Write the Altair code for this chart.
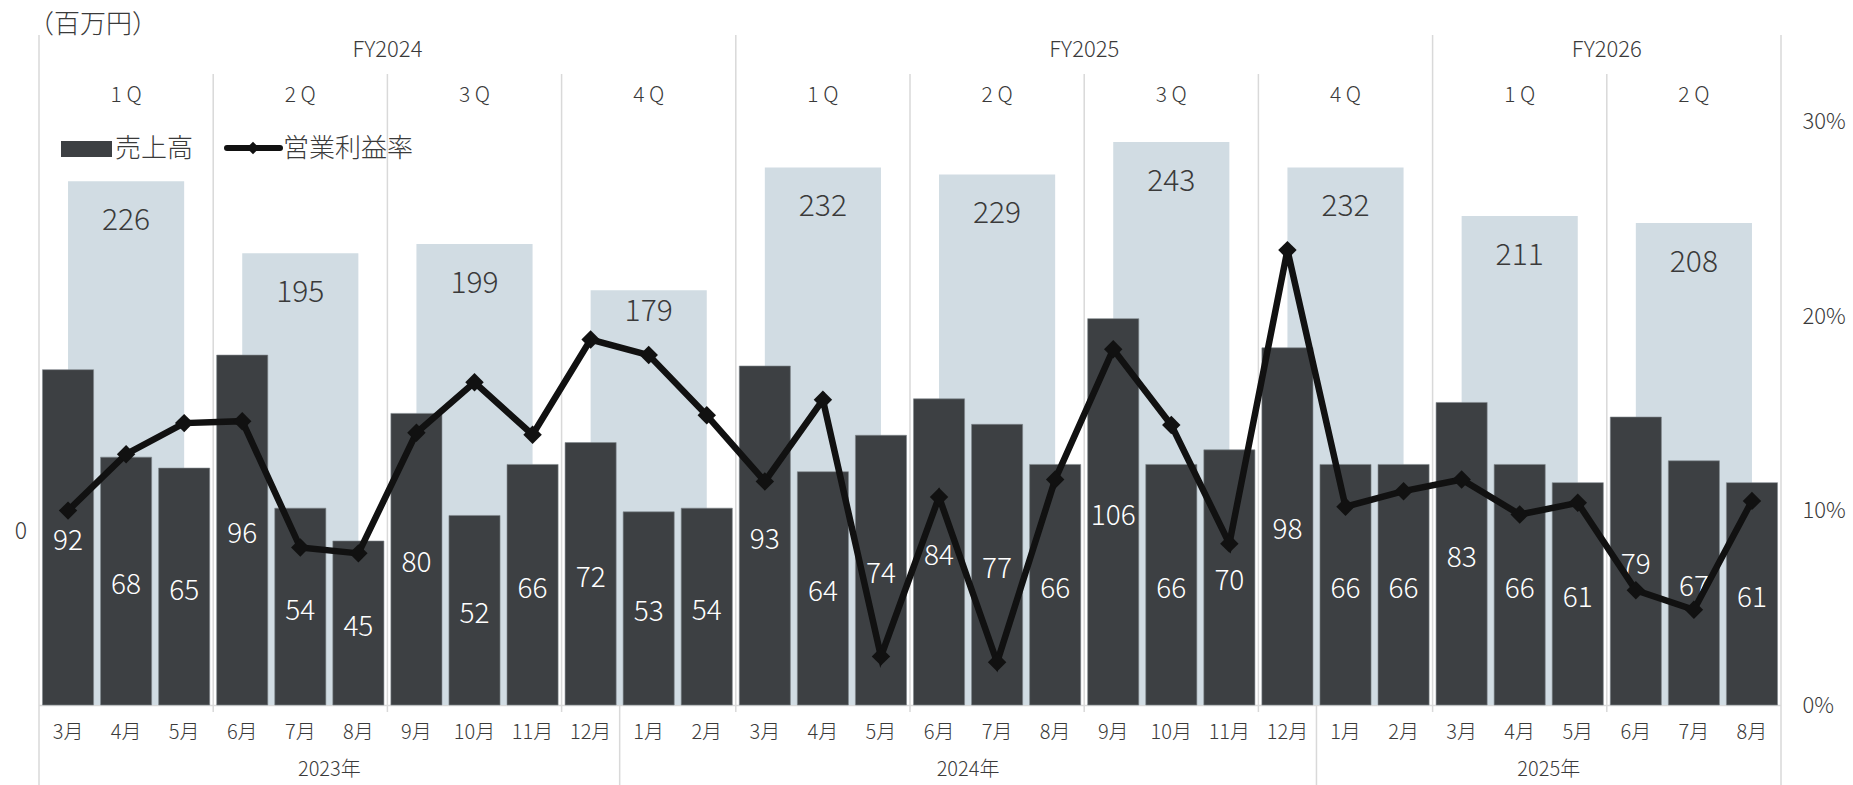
import altair as alt
import pandas as pd

# ---- data -------------------------------------------------------------
months = ["3月", "4月", "5月", "6月", "7月", "8月", "9月", "10月", "11月", "12月",
          "1月", "2月", "3月", "4月", "5月", "6月", "7月", "8月", "9月", "10月", "11月", "12月",
          "1月", "2月", "3月", "4月", "5月", "6月", "7月", "8月"]
sales = [92, 68, 65, 96, 54, 45, 80, 52, 66, 72,
         53, 54, 93, 64, 74, 84, 77, 66, 106, 66, 70, 98,
         66, 66, 83, 66, 61, 79, 67, 61]
margin_pct = [10.0, 12.9, 14.5, 14.6, 8.1, 7.8, 14.0, 16.6, 13.9, 18.8,
              18.0, 14.9, 11.5, 15.7, 2.5, 10.7, 2.2, 11.6, 18.3, 14.4, 8.3, 23.4,
              10.2, 11.0, 11.6, 9.8, 10.4, 5.9, 4.9, 10.5]
quarter_names = ["1 Q", "2 Q", "3 Q", "4 Q", "1 Q", "2 Q", "3 Q", "4 Q", "1 Q", "2 Q"]
quarter_sales = [226, 195, 199, 179, 232, 229, 243, 232, 211, 208]
fiscal_years = ["FY2024", "FY2025", "FY2026"]
fiscal_year_months = [12, 12, 6]
calendar_years = ["2023年", "2024年", "2025年"]
calendar_year_months = [10, 12, 8]

# ---- tables -----------------------------------------------------------
n = len(months)
monthly = pd.DataFrame({"i": range(n), "month": months, "sales": sales, "margin": margin_pct})
quarterly = pd.DataFrame({"q": range(len(quarter_sales)), "name": quarter_names,
                          "sales": quarter_sales})


def spans(names, lengths):
    start, rows = 0, []
    for name, length in zip(names, lengths):
        rows.append({"name": name, "start": start, "end": start + length})
        start += length
    return pd.DataFrame(rows)


fy = spans(fiscal_years, fiscal_year_months)
cy = spans(calendar_years, calendar_year_months)

quarter_edges = pd.DataFrame({"b": [3 * k for k in range(1, len(quarter_sales))]})
quarter_inner = quarter_edges[~quarter_edges["b"].isin(fy["end"])]
fy_edges = pd.DataFrame({"b": [0] + fy["end"].tolist()})
outer_edges = pd.DataFrame({"b": [0, n] + cy["end"].tolist()[:-1]})

# ---- geometry ---------------------------------------------------------
W, H = 1742, 705
FONT = "Noto Sans CJK JP"
DARK = "#3d4043"
LIGHT = "#d1dce3"
GRID = "#d9d9d9"
TEXT = "#3a3a3a"

xs = alt.Scale(domain=[0, n], nice=False, zero=False)
y_month = alt.Scale(domain=[0, H / 3.645], nice=False)
y_quarter = alt.Scale(domain=[0, H / 2.317], nice=False)
y_pct = alt.Scale(domain=[0, H / 19.44], nice=False)

X = lambda f: alt.X(f, type="quantitative", scale=xs, axis=None)

# separators
rule_quarter = alt.Chart(quarter_inner).mark_rule(color=GRID, strokeWidth=1.5).encode(
    x=X("b"), y=alt.value(74), y2=alt.value(H))
rule_fy = alt.Chart(fy_edges).mark_rule(color=GRID, strokeWidth=1.5).encode(
    x=X("b"), y=alt.value(35), y2=alt.value(H))
rule_outer = alt.Chart(outer_edges).mark_rule(color=GRID, strokeWidth=1.5).encode(
    x=X("b"), y=alt.value(H), y2=alt.value(785))
rule_ticks = alt.Chart(quarter_edges).mark_rule(color=GRID, strokeWidth=1.5).encode(
    x=X("b"), y=alt.value(H), y2=alt.value(H + 7))
baseline = alt.Chart(pd.DataFrame({"a": [0], "b": [n]})).mark_rule(color=GRID, strokeWidth=1.5).encode(
    x=X("a"), x2="b", y=alt.value(H + 0.5))

# quarterly bars (background)
q_bars = alt.Chart(quarterly).transform_calculate(
    x0="datum.q * 3 + 0.5", x1="datum.q * 3 + 2.5", zero="0"
).mark_bar(color=LIGHT).encode(
    x=X("x0"), x2="x1:Q",
    y=alt.Y("sales:Q", scale=y_quarter, axis=None), y2="zero:Q")

q_labels = alt.Chart(quarterly).transform_filter("datum.q != 3").transform_calculate(
    xc="datum.q * 3 + 1.5"
).mark_text(font=FONT, fontSize=30, fontWeight=300, color=TEXT, baseline="middle", dy=40).encode(
    x=X("xc"), y=alt.Y("sales:Q", scale=y_quarter, axis=None), text="sales:Q")
q_labels_low = alt.Chart(quarterly).transform_filter("datum.q == 3").transform_calculate(
    xc="datum.q * 3 + 1.5"
).mark_text(font=FONT, fontSize=30, fontWeight=300, color=TEXT, baseline="middle", dy=22).encode(
    x=X("xc"), y=alt.Y("sales:Q", scale=y_quarter, axis=None), text="sales:Q")

# monthly bars
m_bars = alt.Chart(monthly).transform_calculate(
    x0="datum.i + 0.06", x1="datum.i + 0.94", zero="0"
).mark_bar(color=DARK, stroke="#80868b", strokeWidth=0.6).encode(
    x=X("x0"), x2="x1:Q",
    y=alt.Y("sales:Q", scale=y_month, axis=None), y2="zero:Q")

m_labels = alt.Chart(monthly).transform_calculate(
    xc="datum.i + 0.5", half="datum.sales / 2"
).mark_text(font=FONT, fontSize=28, fontWeight=300, color="white", baseline="middle", dy=5).encode(
    x=X("xc"), y=alt.Y("half:Q", scale=y_month, axis=None), text="sales:Q")

# operating margin line on the right axis
line = alt.Chart(monthly).transform_calculate(xc="datum.i + 0.5").mark_line(
    color="#111111", strokeWidth=6.5, strokeJoin="miter",
    point=alt.OverlayMarkDef(shape="diamond", size=340, filled=True, color="#111111", opacity=1),
).encode(
    x=X("xc"),
    y=alt.Y("margin:Q", scale=y_pct,
            axis=alt.Axis(orient="right", values=[0, 10, 20, 30], labelExpr="datum.value + '%'",
                          domain=False, ticks=False, grid=False, title=None,
                          labelFont=FONT, labelFontSize=22, labelFontWeight=300, labelColor=TEXT,
                          labelPadding=21, labelAlign="left", labelBaseline="middle")))

# header and footer texts
fy_text = alt.Chart(fy).transform_calculate(xc="(datum.start + datum.end) / 2").mark_text(
    font=FONT, fontSize=22, fontWeight=300, color=TEXT).encode(x=X("xc"), y=alt.value(50), text="name:N")
q_text = alt.Chart(quarterly).transform_calculate(xc="datum.q * 3 + 1.5").mark_text(
    font=FONT, fontSize=21, fontWeight=300, color=TEXT).encode(x=X("xc"), y=alt.value(96), text="name:N")
month_text = alt.Chart(monthly).transform_calculate(xc="datum.i + 0.5").mark_text(
    font=FONT, fontSize=20, fontWeight=300, color=TEXT).encode(x=X("xc"), y=alt.value(733), text="month:N")
year_text = alt.Chart(cy).transform_calculate(xc="(datum.start + datum.end) / 2").mark_text(
    font=FONT, fontSize=20, fontWeight=300, color=TEXT).encode(x=X("xc"), y=alt.value(770), text="name:N")

unit_text = alt.Chart(pd.DataFrame({"t": ["（百万円）"]})).mark_text(
    font=FONT, fontSize=26, fontWeight=300, color=TEXT, align="left").encode(
    x=alt.value(-11), y=alt.value(25), text="t:N")
zero_text = alt.Chart(pd.DataFrame({"t": ["0"]})).mark_text(
    font=FONT, fontSize=23, fontWeight=300, color=TEXT).encode(
    x=alt.value(-18), y=alt.value(532), text="t:N")

# legend
leg_rect = alt.Chart(pd.DataFrame({"t": [0]})).mark_rect(color=DARK).encode(
    x=alt.value(22), x2=alt.value(73), y=alt.value(141), y2=alt.value(157))
leg_rect_text = alt.Chart(pd.DataFrame({"t": ["売上高"]})).mark_text(
    font=FONT, fontSize=26, fontWeight=300, color=TEXT, align="left").encode(
    x=alt.value(76), y=alt.value(149), text="t:N")
leg_line = alt.Chart(pd.DataFrame({"t": [0]})).mark_rule(color="#111111", strokeWidth=6, strokeCap="round").encode(
    x=alt.value(188), x2=alt.value(241), y=alt.value(148))
leg_point = alt.Chart(pd.DataFrame({"t": [0]})).mark_point(
    shape="diamond", size=160, filled=True, color="#111111", opacity=1).encode(
    x=alt.value(214), y=alt.value(148))
leg_line_text = alt.Chart(pd.DataFrame({"t": ["営業利益率"]})).mark_text(
    font=FONT, fontSize=26, fontWeight=300, color=TEXT, align="left").encode(
    x=alt.value(244), y=alt.value(149), text="t:N")

chart = alt.layer(
    rule_quarter, rule_fy, rule_outer, rule_ticks, baseline,
    q_bars, q_labels, q_labels_low,
    m_bars, m_labels,
    line,
    fy_text, q_text, month_text, year_text, unit_text, zero_text,
    leg_rect, leg_rect_text, leg_line, leg_point, leg_line_text,
).resolve_scale(y="independent").resolve_axis(y="independent").properties(
    width=W, height=H,
    padding={"left": 39, "top": 0, "right": 72, "bottom": 80},
    autosize=alt.AutoSizeParams(type="none"),
    background="white",
).configure_view(stroke=None)

chart.save("out.html", embed_options={"renderer": "svg", "actions": False})
